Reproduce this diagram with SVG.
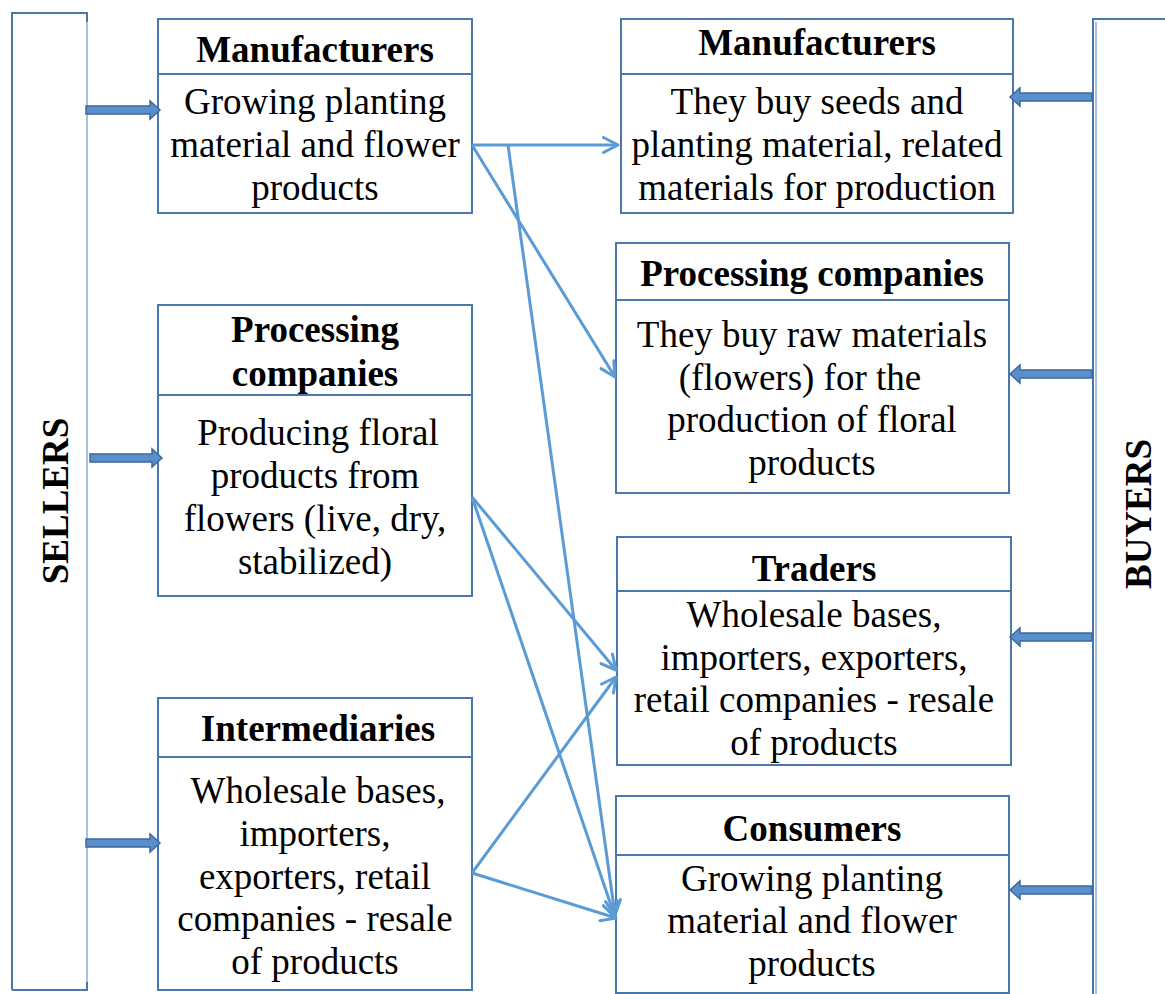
<svg xmlns="http://www.w3.org/2000/svg" width="1165" height="994" viewBox="0 0 1165 994">
  <defs>
    <style>
      .box { fill: #ffffff; stroke: #4a78ad; stroke-width: 2; }
      .div { stroke: #4a78ad; stroke-width: 2; }
      .hd { font-family: "Liberation Serif", "Times New Roman", serif; font-weight: bold; font-size: 37px; fill: #000; text-anchor: middle; }
      .tx { font-family: "Liberation Serif", "Times New Roman", serif; font-size: 37px; fill: #000; text-anchor: middle; }
      .side { font-family: "Liberation Serif", "Times New Roman", serif; font-weight: bold; font-size: 37px; fill: #000; text-anchor: middle; }
      .blk { fill: #5a8fcf; stroke: #3d6a9c; stroke-width: 1.5; }
      .link { fill: none; stroke: #5b9bd5; stroke-width: 3; marker-end: url(#open); }
      .edge { fill: none; stroke: #4a76a8; stroke-width: 2; }
      .edge2 { fill: none; stroke: #a9c1dd; stroke-width: 2; }
    </style>
    <marker id="open" viewBox="0 0 18 18" refX="16" refY="9" markerWidth="18" markerHeight="18" markerUnits="userSpaceOnUse" orient="auto">
      <path d="M1.5,1.5 L16,9 L1.5,16.5" fill="none" stroke="#5b9bd5" stroke-width="3" stroke-linecap="round" stroke-linejoin="round"/>
    </marker>
  </defs>

  <rect width="1165" height="994" fill="#ffffff"/>

  <!-- Sellers bar -->
  <g id="sellers">
    <path class="edge" d="M12,990 L12,13 L87,13 L87,22"/>
    <path class="edge" d="M12,990 L87,990 L87,982"/>
    <line class="edge2" x1="87" y1="22" x2="87" y2="982"/>
    <text class="side" transform="translate(68,501) rotate(-90)">SELLERS</text>
  </g>

  <!-- Buyers bar -->
  <g id="buyers">
    <path class="edge" d="M1093,994 L1093,19 L1165,19"/>
    <line class="edge2" x1="1096" y1="22" x2="1096" y2="994"/>
    <text class="side" transform="translate(1151,514) rotate(-90)">BUYERS</text>
  </g>

  <!-- Sellers: manufacturers -->
  <g id="s-manufacturers">
    <rect class="box" x="158" y="19" width="314" height="194"/>
    <line class="div" x1="158" y1="74" x2="472" y2="74"/>
    <text class="hd" x="315" y="62">Manufacturers</text>
    <text class="tx" x="315" y="114">Growing planting</text>
    <text class="tx" x="315" y="157">material and flower</text>
    <text class="tx" x="315" y="200">products</text>
  </g>

  <!-- Sellers: processing companies -->
  <g id="s-processing">
    <rect class="box" x="158" y="305" width="314" height="291"/>
    <line class="div" x1="158" y1="395" x2="472" y2="395"/>
    <text class="hd" x="315" y="342">Processing</text>
    <text class="hd" x="315" y="386">companies</text>
    <text class="tx" x="318" y="445">Producing floral</text>
    <text class="tx" x="315" y="488">products from</text>
    <text class="tx" x="315" y="531">flowers (live, dry,</text>
    <text class="tx" x="315" y="574">stabilized)</text>
  </g>

  <!-- Sellers: intermediaries -->
  <g id="s-intermediaries">
    <rect class="box" x="158" y="698" width="314" height="292"/>
    <line class="div" x1="158" y1="757" x2="472" y2="757"/>
    <text class="hd" x="318" y="741">Intermediaries</text>
    <text class="tx" x="318" y="803">Wholesale bases,</text>
    <text class="tx" x="315" y="846">importers,</text>
    <text class="tx" x="315" y="889">exporters, retail</text>
    <text class="tx" x="315" y="931">companies - resale</text>
    <text class="tx" x="315" y="974">of products</text>
  </g>

  <!-- Buyers: manufacturers -->
  <g id="b-manufacturers">
    <rect class="box" x="621" y="19" width="392" height="194"/>
    <line class="div" x1="621" y1="74" x2="1013" y2="74"/>
    <text class="hd" x="817" y="55">Manufacturers</text>
    <text class="tx" x="817" y="114">They buy seeds and</text>
    <text class="tx" x="817" y="157">planting material, related</text>
    <text class="tx" x="817" y="200">materials for production</text>
  </g>

  <!-- Buyers: processing companies -->
  <g id="b-processing">
    <rect class="box" x="616" y="243" width="393" height="250"/>
    <line class="div" x1="616" y1="300" x2="1009" y2="300"/>
    <text class="hd" x="812" y="286">Processing companies</text>
    <text class="tx" x="812" y="347">They buy raw materials</text>
    <text class="tx" x="800" y="390">(flowers) for the</text>
    <text class="tx" x="812" y="432">production of floral</text>
    <text class="tx" x="812" y="475">products</text>
  </g>

  <!-- Buyers: traders -->
  <g id="b-traders">
    <rect class="box" x="617" y="537" width="394" height="228"/>
    <line class="div" x1="617" y1="591" x2="1011" y2="591"/>
    <text class="hd" x="814" y="581">Traders</text>
    <text class="tx" x="814" y="627">Wholesale bases,</text>
    <text class="tx" x="814" y="670">importers, exporters,</text>
    <text class="tx" x="814" y="712">retail companies - resale</text>
    <text class="tx" x="814" y="755">of products</text>
  </g>

  <!-- Buyers: consumers -->
  <g id="b-consumers">
    <rect class="box" x="616" y="796" width="393" height="197"/>
    <line class="div" x1="616" y1="855" x2="1009" y2="855"/>
    <text class="hd" x="812" y="841">Consumers</text>
    <text class="tx" x="812" y="891">Growing planting</text>
    <text class="tx" x="812" y="933">material and flower</text>
    <text class="tx" x="812" y="976">products</text>
  </g>

  <!-- Block arrows from the bars into the boxes -->
  <g id="bar-arrows">
    <path class="blk" d="M86,106 L150,106 L150,101 L160,110 L150,119 L150,114 L86,114 Z"/>
    <path class="blk" d="M90,454 L152,454 L152,449 L162,458 L152,467 L152,462 L90,462 Z"/>
    <path class="blk" d="M86,839 L150,839 L150,834 L160,843 L150,852 L150,847 L86,847 Z"/>
    <path class="blk" d="M1092,93 L1020,93 L1020,88 L1010,97 L1020,106 L1020,101 L1092,101 Z"/>
    <path class="blk" d="M1092,370 L1020,370 L1020,365 L1010,374 L1020,383 L1020,378 L1092,378 Z"/>
    <path class="blk" d="M1092,633 L1020,633 L1020,628 L1010,637 L1020,646 L1020,641 L1092,641 Z"/>
    <path class="blk" d="M1092,886 L1020,886 L1020,881 L1010,890 L1020,899 L1020,894 L1092,894 Z"/>
  </g>

  <!-- Connectors between sellers and buyers -->
  <g id="connectors">
    <line class="link" x1="472" y1="145" x2="618" y2="145"/>
    <line class="link" x1="472" y1="145" x2="615" y2="377"/>
    <line class="link" x1="508" y1="145" x2="615" y2="915"/>
    <line class="link" x1="472" y1="497" x2="616" y2="670"/>
    <line class="link" x1="472" y1="497" x2="615" y2="917"/>
    <line class="link" x1="472" y1="873" x2="616" y2="677"/>
    <line class="link" x1="472" y1="873" x2="616" y2="918"/>
  </g>
</svg>
